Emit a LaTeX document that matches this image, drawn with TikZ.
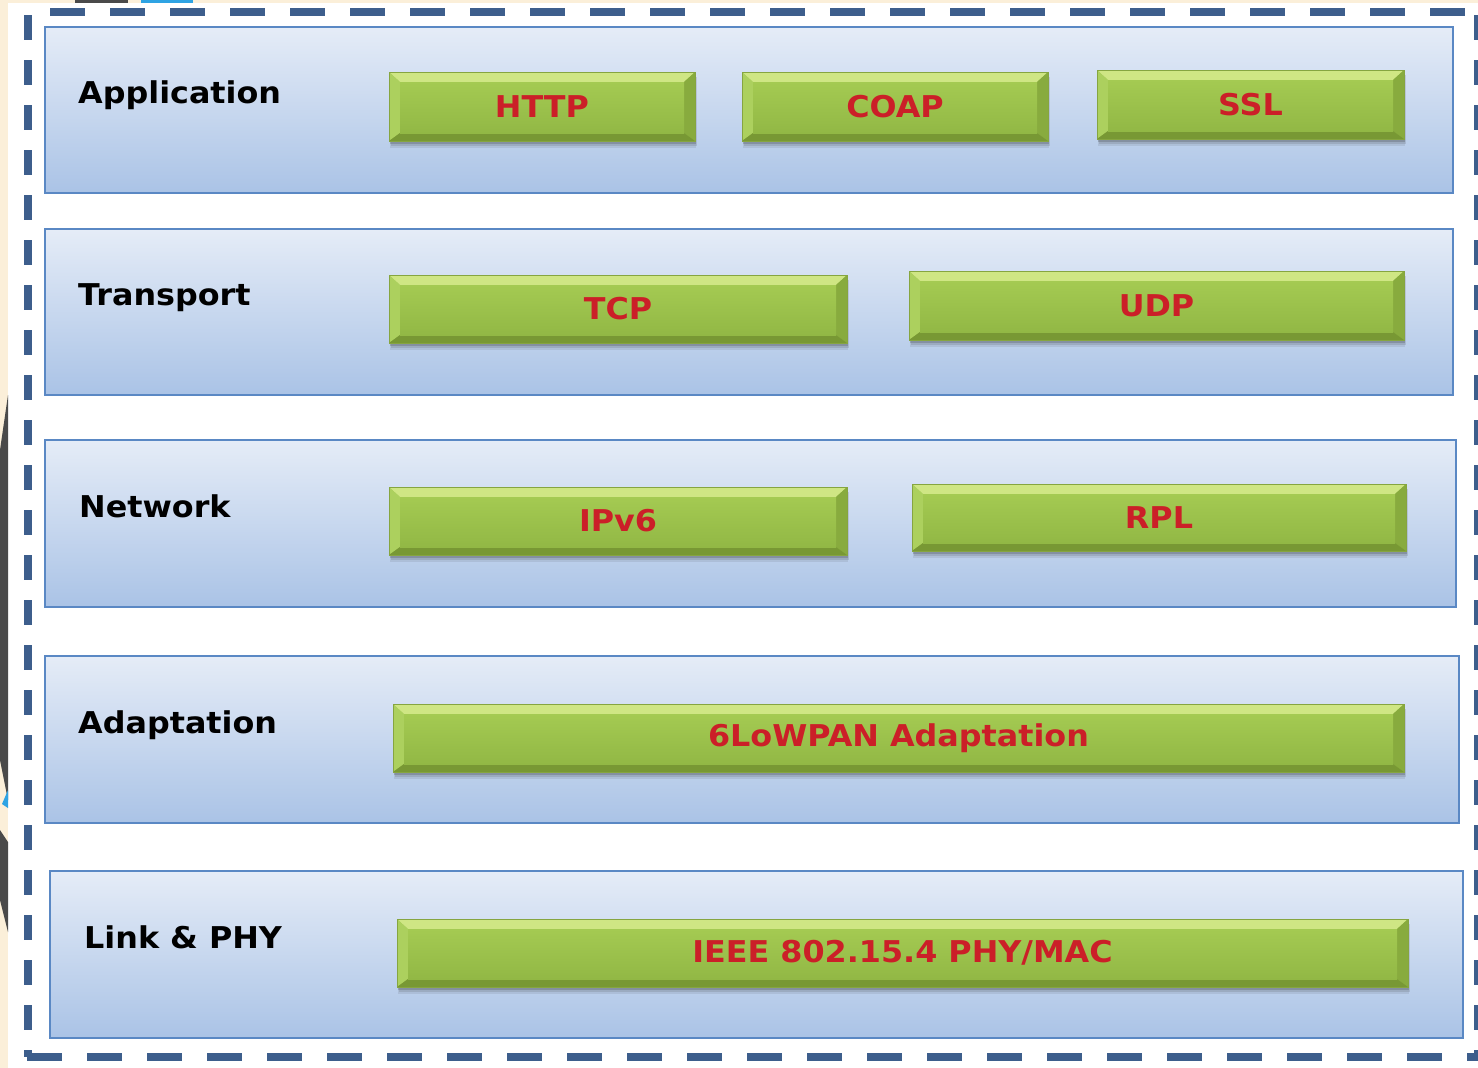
\documentclass[tikz,border=0pt]{standalone}
\usepackage{fontspec}
\setmainfont{DejaVu Sans}[FakeStretch=1.06]
\usetikzlibrary{shadows}

\definecolor{cream}{HTML}{FBEFD9}
\definecolor{edgegrey}{HTML}{4A4A4A}
\definecolor{edgeblue}{HTML}{2EA3E3}
\definecolor{framedash}{HTML}{3D5E8C}
\definecolor{layerline}{HTML}{5A88C4}
\definecolor{layertop}{HTML}{E5ECF7}
\definecolor{layerbot}{HTML}{AAC3E6}
\definecolor{gtop}{HTML}{A4CA52}
\definecolor{gbot}{HTML}{92B845}
\definecolor{ghilite}{HTML}{CFE684}
\definecolor{gleft}{HTML}{ACD05E}
\definecolor{gright}{HTML}{88AB3E}
\definecolor{gdark}{HTML}{789834}
\definecolor{gline}{HTML}{86A540}
\definecolor{protored}{HTML}{CB1F28}

\tikzset{
  layerbox/.style={draw=layerline, line width=2.6pt, top color=layertop,
    bottom color=layerbot, inner sep=0pt},
  layername/.style={anchor=base west, inner sep=0pt,
    font=\fontsize{30}{36}\selectfont\bfseries, text=black},
  frameline/.style={framedash, line width=7.5pt},
  protobox/.style={inner sep=0pt, top color=gtop, bottom color=gbot,
    draw=gline, line width=0.6pt,
    font=\fontsize{30}{36}\selectfont\bfseries, text=protored,
    drop shadow={shadow xshift=1pt, shadow yshift=-7pt, opacity=0.10, fill=black!80},
    drop shadow={shadow xshift=1.5pt, shadow yshift=-5pt, opacity=0.14, fill=black!80},
    drop shadow={shadow xshift=1pt, shadow yshift=-3pt, opacity=0.22, fill=black!80},
    path picture={
      \fill[ghilite] (path picture bounding box.north west) -- (path picture bounding box.north east)
        -- ([shift={(-11pt,-10pt)}]path picture bounding box.north east)
        -- ([shift={(11pt,-10pt)}]path picture bounding box.north west) -- cycle;
      \fill[gleft] (path picture bounding box.north west)
        -- ([shift={(11pt,-10pt)}]path picture bounding box.north west)
        -- ([shift={(11pt,8pt)}]path picture bounding box.south west)
        -- (path picture bounding box.south west) -- cycle;
      \fill[gright] (path picture bounding box.north east)
        -- ([shift={(-11pt,-10pt)}]path picture bounding box.north east)
        -- ([shift={(-11pt,8pt)}]path picture bounding box.south east)
        -- (path picture bounding box.south east) -- cycle;
      \fill[gdark] (path picture bounding box.south west) -- (path picture bounding box.south east)
        -- ([shift={(-11pt,8pt)}]path picture bounding box.south east)
        -- ([shift={(11pt,8pt)}]path picture bounding box.south west) -- cycle;
      \shade[top color=gtop, bottom color=gbot]
        ([shift={(11pt,-10pt)}]path picture bounding box.north west)
        rectangle ([shift={(-11pt,8pt)}]path picture bounding box.south east);
    }},
}

\begin{document}
\begin{tikzpicture}[x=1pt, y=-1pt]
  \useasboundingbox (0,0) rectangle (1478,1068);

  % page background with the scan edges
  \fill[white] (0,0) rectangle (1478,1068);
  \fill[cream] (0,0) rectangle (1478,3);
  \fill[cream] (0,0) rectangle (8,1068);
  \fill[edgegrey] (75,0) rectangle (128,3);
  \fill[edgeblue] (141,0) rectangle (193,3);
  \fill[edgegrey] (8,395) -- (8,800) -- (0,760) -- (0,450) -- cycle;
  \fill[edgeblue] (8,790) -- (8,808) -- (2,804) -- cycle;
  \fill[edgegrey] (0,830) -- (8,842) -- (8,932) -- (0,900) -- cycle;

  % dashed outer frame: longer dashes on the horizontal sides
  \coordinate (ftl) at (27,12);
  \coordinate (ftr) at (1479,12);
  \coordinate (fbl) at (27,1057);
  \coordinate (fbr) at (1479,1057);
  \draw[frameline, dash pattern=on 35pt off 25pt, dash phase=37pt] (ftl) -- (ftr);
  \draw[frameline, dash pattern=on 35pt off 25pt, dash phase=-4pt] ([xshift=-4pt]fbl) -- (fbr);
  \draw[frameline, line width=8.5pt, dash pattern=on 25pt off 20pt, dash phase=42pt] ([xshift=1pt]ftl) -- ([xshift=1pt]fbl);
  \draw[frameline, line width=8.5pt, dash pattern=on 25pt off 20pt, dash phase=42pt] ([xshift=-1pt]ftr) -- ([xshift=-1pt]fbr);

  % layers
  \node[layerbox, minimum width=1408pt, minimum height=166pt] (app) at (749,110) {};
  \node[layerbox, minimum width=1408pt, minimum height=166pt] (trn) at (749,312) {};
  \node[layerbox, minimum width=1411pt, minimum height=167pt] (net) at (750.5,523.5) {};
  \node[layerbox, minimum width=1414pt, minimum height=167pt] (adp) at (752,739.5) {};
  \node[layerbox, minimum width=1413pt, minimum height=167pt] (lnk) at (756.5,954.5) {};

  % layer names
  \node[layername] (appname) at (78,103) {Application};
  \node[layername] (trnname) at (78,305) {Transport};
  \node[layername] (netname) at (79,517) {Network};
  \node[layername] (adpname) at (78,733) {Adaptation};
  \node[layername] (lnkname) at (84,948) {Link \& PHY};

  % protocols
  \node[protobox, minimum width=306pt, minimum height=69pt] (http) at (542,106.5) {HTTP};
  \node[protobox, minimum width=306pt, minimum height=69pt] (coap) at (895,106.5) {COAP};
  \node[protobox, minimum width=307pt, minimum height=69pt] (ssl) at (1250.5,104.5) {SSL};
  \node[protobox, minimum width=458pt, minimum height=68pt] (tcp) at (618,309) {TCP};
  \node[protobox, minimum width=495pt, minimum height=69pt] (udp) at (1156.5,305.5) {UDP};
  \node[protobox, minimum width=458pt, minimum height=68pt] (ipv6) at (618,521) {IPv6};
  \node[protobox, minimum width=494pt, minimum height=67pt] (rpl) at (1159,517.5) {RPL};
  \node[protobox, minimum width=1011pt, minimum height=68pt] (lowpan) at (898.5,738) {6LoWPAN Adaptation};
  \node[protobox, minimum width=1011pt, minimum height=68pt] (ieee) at (902.5,953) {IEEE 802.15.4 PHY/MAC};
\end{tikzpicture}
\end{document}
